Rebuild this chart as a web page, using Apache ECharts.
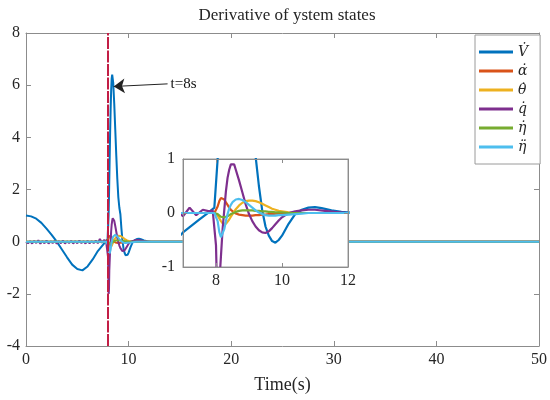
<!DOCTYPE html>
<html><head><meta charset="utf-8">
<script src="https://cdn.jsdelivr.net/npm/echarts@6/dist/echarts.min.js"></script>
<style>html,body{margin:0;padding:0;background:#fff}#c{width:550px;height:400px}</style>
</head><body><div id="c"></div>
<script>
// shared time base for V̇, α̇, θ̇, η̇, η̈
const T = [0,0.5,1,1.5,2,2.5,3,3.5,4,4.5,5,5.5,6,6.5,7,7.5,7.8,7.95,8.05,8.1,8.15,8.2,8.25,8.3,8.35,8.4,8.45,8.5,8.6,8.7,8.8,8.9,9.0,9.1,9.2,9.3,9.4,9.5,9.6,9.7,9.8,9.9,10.0,10.2,10.4,10.6,10.8,11.0,11.2,11.5,11.8,12.2,13,15,50];
const Vdot = [1.0,0.97,0.88,0.72,0.5,0.26,0.0,-0.3,-0.6,-0.88,-1.05,-1.1,-0.95,-0.68,-0.36,-0.12,0.02,0.1,1.0,2.0,3.1,4.2,5.1,5.8,6.25,6.4,6.35,6.1,5.3,4.3,3.3,2.4,1.7,1.3,1.05,0.5,0.05,-0.25,-0.42,-0.52,-0.55,-0.5,-0.42,-0.2,-0.02,0.06,0.1,0.11,0.09,0.05,0.02,0.0,0,0,0];
const alphaDot = [0,0,0,0,0,0,0,0,0,0,0,0,0,0,0,0,0,0,0.12,0.22,0.28,0.28,0.25,0.2,0.15,0.1,0.06,0.03,-0.01,-0.03,-0.04,-0.05,-0.05,-0.05,-0.04,-0.04,-0.03,-0.03,-0.02,-0.02,-0.01,-0.01,0,0,0,0,0,0,0,0,0,0,0,0,0];
const thetaDot = [0,0,0,0,0,0,0,0,0,0,0,0,0,0,0,0,0,0,-0.05,-0.1,-0.15,-0.19,-0.21,-0.2,-0.17,-0.12,-0.07,-0.02,0.07,0.14,0.19,0.22,0.23,0.23,0.22,0.2,0.17,0.14,0.11,0.08,0.06,0.04,0.03,0.01,0,0,0,0,0,0,0,0,0,0,0];
const etaDot = [0,0,0,0,0,0,0,0,0,0,0,0,0,0,0,0,0,0,-0.02,-0.05,-0.07,-0.08,-0.08,-0.07,-0.06,-0.04,-0.02,0.0,0.02,0.04,0.05,0.05,0.05,0.05,0.04,0.04,0.03,0.03,0.02,0.02,0.01,0.01,0.01,0,0,0,0,0,0,0,0,0,0,0,0];
const etaDDot = [0,0,0,0,0,0,0,0,0,0,0,0,0,0,0,0,0,0,-0.15,-0.35,-0.45,-0.42,-0.3,-0.15,-0.02,0.08,0.15,0.2,0.25,0.26,0.24,0.2,0.15,0.1,0.05,0.01,-0.02,-0.04,-0.05,-0.05,-0.05,-0.04,-0.04,-0.03,-0.02,-0.01,0,0,0,0,0,0,0,0,0];
// q̇ has its own (noisy) time base
const Tq = [0,0.2,0.4,0.6,0.8,1.0,1.2,1.4,1.6,1.8,2.0,2.2,2.4,2.6,2.8,3.0,3.2,3.4,3.6,3.8,4.0,4.2,4.4,4.6,4.8,5.0,5.2,5.4,5.6,5.8,6.0,6.2,6.4,6.6,6.8,7.0,7.2,7.4,7.6,7.8,7.9,7.95,8.0,8.03,8.06,8.09,8.12,8.15,8.2,8.25,8.3,8.35,8.4,8.45,8.5,8.55,8.6,8.7,8.8,8.9,9.0,9.1,9.2,9.3,9.4,9.5,9.6,9.7,9.8,9.9,10.0,10.2,10.4,10.6,10.8,11.0,11.3,11.6,12,13,15,50];
const qDot = [0.0,-0.06,0.02,-0.07,0.03,-0.05,0.05,-0.08,0.02,-0.06,0.04,-0.07,0.01,-0.05,0.03,-0.08,0.02,-0.06,0.04,-0.07,0.01,-0.05,0.03,-0.07,0.02,-0.06,0.04,-0.05,0.02,-0.07,0.03,-0.06,0.02,-0.05,0.04,-0.06,0.1,-0.04,0.06,0.03,0.05,0.02,-0.6,-1.4,-2.0,-1.8,-1.1,-0.8,-0.3,0.05,0.4,0.65,0.8,0.9,0.93,0.9,0.8,0.6,0.38,0.16,-0.02,-0.15,-0.25,-0.32,-0.36,-0.37,-0.34,-0.28,-0.21,-0.14,-0.08,0.0,0.03,0.05,0.06,0.06,0.04,0.02,0.0,0,0,0];

const names = ['V\u0307','\u03B1\u0307','\u03B8\u0307','q\u0307','\u03B7\u0307','\u03B7\u0308'];
const colors = ['#0072BD','#D95319','#EDB120','#7E2F8E','#77AC30','#4DBEEE'];
const insetXLabels = [8,10,12];
const insetXTicks = [8,10];
const eventTime = 8;
const annotStart = [13.8,6.05];
const annotEnd = [8.55,5.95];
const annotText = 't=8s';

function pairs(t, v){ return t.map((x,i)=>[x,v[i]]); }
const seriesData = [pairs(T,Vdot),pairs(T,alphaDot),pairs(T,thetaDot),pairs(Tq,qDot),pairs(T,etaDot),pairs(T,etaDDot)];

const serif = 'Liberation Serif';
const axisGray = '#8c8c8c';
const txt = '#262626';

const series = [];
seriesData.forEach((d,i)=>{
  const s = {type:'line', name:names[i], data:d, xAxisIndex:0, yAxisIndex:0, showSymbol:false, symbol:'none',
    lineStyle:{width:2,color:colors[i]}, itemStyle:{color:colors[i]}, z:2, animation:false};
  if(i===0){
    s.markLine = {silent:true, animation:false, symbol:'none', data:[
      {xAxis:eventTime, lineStyle:{color:'#C21E45',width:2,type:[12,1.5]}, label:{show:false}},
      [{coord:annotStart, symbol:'none'},{coord:annotEnd, symbol:'arrow'}]
    ], lineStyle:{color:'#222',width:1,type:'solid'}, symbolSize:11,
    label:{show:true, position:'start', formatter:annotText, color:'#111', fontFamily:serif, fontSize:15, distance:3}};
  }
  series.push(s);
});
seriesData.forEach((d,i)=>{
  series.push({type:'line', name:names[i], data:d, xAxisIndex:2, yAxisIndex:2, showSymbol:false, symbol:'none',
    lineStyle:{width:2.2,color:colors[i]}, itemStyle:{color:colors[i]}, z:12, clip:true, animation:false});
});

const labelStyle = {color:txt, fontFamily:serif, fontSize:16};
function axLine(){ return {show:true, onZero:false, lineStyle:{color:axisGray}}; }
const option = {
  animation:false,
  title:{text:'Derivative of ystem states', left:282, top:2, textAlign:'center',
    textStyle:{fontFamily:serif, fontSize:17, fontWeight:'normal', color:txt}},
  legend:{data:names, orient:'vertical', left:475, top:35, itemWidth:34, itemHeight:3, icon:'rect', itemGap:3,
    padding:[9,12,9,4], borderColor:'#9a9a9a', borderWidth:1, backgroundColor:'#fff',
    textStyle:{fontFamily:'DejaVu Serif', fontStyle:'italic', fontSize:14, lineHeight:16, color:txt}},
  grid:[
    {left:26, right:11, top:33, bottom:54, show:false},
    {left:183, right:202, top:159, bottom:133, show:true, backgroundColor:'#fff', borderColor:'#9a9a9a', borderWidth:1, z:10}
  ],
  xAxis:[
    {type:'value', gridIndex:0, min:0, max:50, interval:10, position:'bottom', splitLine:{show:false},
     axisLine:axLine(), axisTick:{inside:true,length:5,lineStyle:{color:axisGray}},
     axisLabel:Object.assign({margin:6}, labelStyle),
     name:'Time(s)', nameLocation:'middle', nameGap:30, nameTextStyle:{fontFamily:serif, fontSize:18, color:txt}},
    {type:'value', gridIndex:0, min:0, max:50, interval:10, position:'top', splitLine:{show:false},
     axisLine:axLine(), axisTick:{inside:true,length:5,lineStyle:{color:axisGray}}, axisLabel:{show:false}},
    {type:'value', gridIndex:1, min:7, max:12, position:'bottom', splitLine:{show:false}, z:13,
     axisLine:axLine(), axisTick:{inside:true,length:4,lineStyle:{color:axisGray}, customValues:insetXTicks},
     axisLabel:Object.assign({margin:6, customValues:insetXLabels}, labelStyle)},
    {type:'value', gridIndex:1, min:7, max:12, position:'top', splitLine:{show:false}, z:13,
     axisLine:axLine(), axisTick:{inside:true,length:4,lineStyle:{color:axisGray}, customValues:insetXTicks}, axisLabel:{show:false}}
  ],
  yAxis:[
    {type:'value', gridIndex:0, min:-4, max:8, interval:2, position:'left', splitLine:{show:false},
     axisLine:axLine(), axisTick:{show:true,inside:true,length:5,lineStyle:{color:axisGray}},
     axisLabel:Object.assign({margin:6}, labelStyle)},
    {type:'value', gridIndex:0, min:-4, max:8, interval:2, position:'right', splitLine:{show:false},
     axisLine:axLine(), axisTick:{show:true,inside:true,length:5,lineStyle:{color:axisGray}}, axisLabel:{show:false}},
    {type:'value', gridIndex:1, min:-1, max:1, interval:1, position:'left', splitLine:{show:false}, z:13,
     axisLine:axLine(), axisTick:{show:true,inside:true,length:4,lineStyle:{color:axisGray}},
     axisLabel:Object.assign({margin:8}, labelStyle)},
    {type:'value', gridIndex:1, min:-1, max:1, interval:1, position:'right', splitLine:{show:false}, z:13,
     axisLine:axLine(), axisTick:{show:true,inside:true,length:4,lineStyle:{color:axisGray}}, axisLabel:{show:false}}
  ],
  series:series
};
const chart = echarts.init(document.getElementById('c'), null, {renderer:'canvas'});
chart.setOption(option);
</script></body></html>
